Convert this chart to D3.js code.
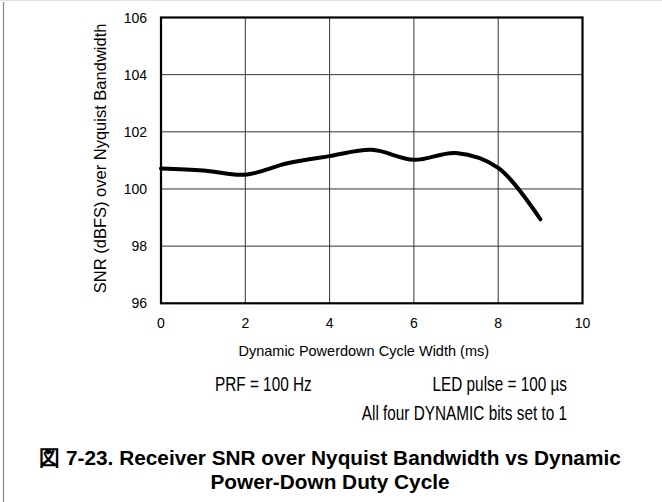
<!DOCTYPE html>
<html><head><meta charset="utf-8">
<script src="https://cdn.jsdelivr.net/npm/d3@7"></script>
<style>body{margin:0;background:#fff}svg{display:block}text{font-family:"Liberation Sans",Arial,sans-serif;fill:#000}</style>
</head><body><svg id="c" width="662" height="502"></svg>
<script>
const widths = [0,1,2,3,4,5,6,7,8,9];
const snr = [100.72,100.65,100.5,100.9,101.15,101.37,101.02,101.26,100.74,98.94];
const xTicks = [0,2,4,6,8,10];
const yTicks = [96,98,100,102,104,106];
const xTitle = "Dynamic Powerdown Cycle Width (ms)";
const yTitle = "SNR (dBFS) over Nyquist Bandwidth";
const notes = ["PRF = 100 Hz","LED pulse = 100 µs","All four DYNAMIC bits set to 1"];
const caption = ["図 7-23. Receiver SNR over Nyquist Bandwidth vs Dynamic","Power-Down Duty Cycle"];

const svg = d3.select("#c");
const L=161, R=582.5, T=17.5, B=303.3;
const x = d3.scaleLinear().domain([0,10]).range([L,R]);
const y = d3.scaleLinear().domain([96,106]).range([B,T]);

svg.append("line").attr("x1",0).attr("x2",662).attr("y1",0.5).attr("y2",0.5).attr("stroke","#e0e0e0");
svg.append("line").attr("x1",3.5).attr("x2",3.5).attr("y1",2).attr("y2",502).attr("stroke","#888").attr("stroke-width",1.2);

const g = svg.append("g");
g.selectAll(".vg").data(xTicks.slice(1,-1)).enter().append("line")
 .attr("x1",d=>x(d)).attr("x2",d=>x(d)).attr("y1",T).attr("y2",B).attr("stroke","#333").attr("stroke-width",1);
g.selectAll(".hg").data(yTicks.slice(1,-1)).enter().append("line")
 .attr("x1",L).attr("x2",R).attr("y1",d=>y(d)).attr("y2",d=>y(d)).attr("stroke","#333").attr("stroke-width",1);
g.append("rect").attr("x",L).attr("y",T).attr("width",R-L).attr("height",B-T).attr("fill","none").attr("stroke","#000").attr("stroke-width",2.2);

const line = d3.line().x((d,i)=>x(widths[i])).y(d=>y(d)).curve(d3.curveCatmullRom.alpha(0.5));
g.append("path").datum(snr).attr("d",line).attr("fill","none").attr("stroke","#000").attr("stroke-width",4).attr("stroke-linecap","round").attr("stroke-linejoin","round");

g.selectAll(".xt").data(xTicks).enter().append("text").attr("x",d=>x(d)).attr("y",B+25).attr("text-anchor","middle").attr("font-size",14).text(d=>d);
g.selectAll(".yt").data(yTicks).enter().append("text").attr("x",L-14).attr("y",d=>y(d)+5).attr("text-anchor","end").attr("font-size",14).text(d=>d);

svg.append("text").attr("x",(L+R)/2 - 8).attr("y",356).attr("text-anchor","middle").attr("font-size",14.5).text(xTitle);
svg.append("text").attr("transform",`translate(${106},${(T+B)/2 - 2}) rotate(-90)`).attr("text-anchor","middle").attr("font-size",16.5).text(yTitle);

const sx = 0.73;
function note(txt, px, py, anchor){
  svg.append("text").attr("transform",`translate(${px},${py}) scale(${sx},1)`).attr("text-anchor",anchor).attr("font-size",21).text(txt);
}
note(notes[0], 215, 391, "start");
note(notes[1], 567, 391, "end");
note(notes[2], 567, 420, "end");

svg.append("text").attr("x",330).attr("y",465).attr("text-anchor","middle").attr("font-size",20.8).attr("font-weight","bold").text(caption[0]);
svg.append("text").attr("x",330).attr("y",489).attr("text-anchor","middle").attr("font-size",20.8).attr("font-weight","bold").text(caption[1]);
</script></body></html>
